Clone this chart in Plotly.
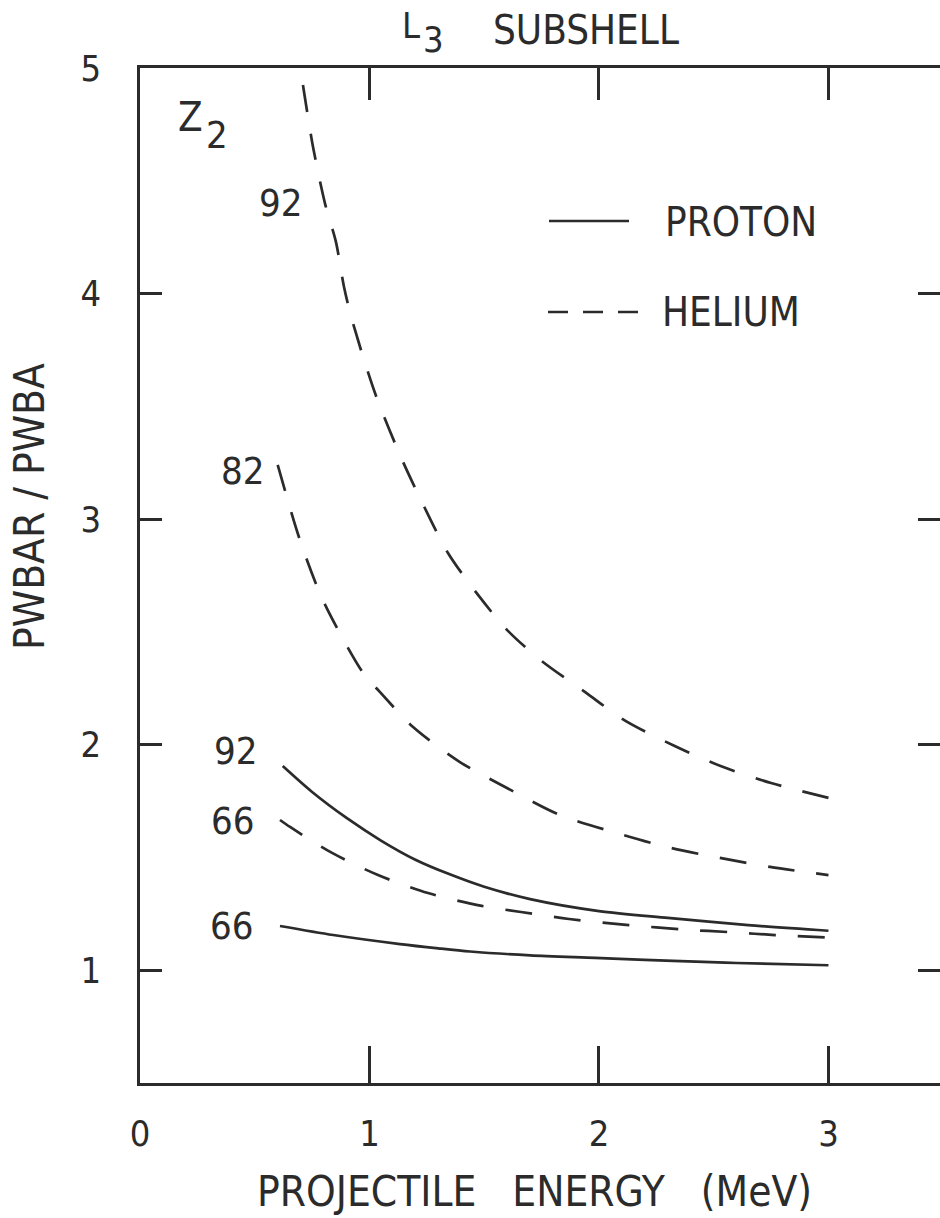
import plotly.graph_objects as go

# PWBAR/PWBA ratio for the L3 subshell vs projectile energy (MeV)
he92_energy = [0.71, 0.754, 0.806, 0.854, 0.889, 0.924, 1.024, 1.133, 1.224, 1.342,
               1.473, 1.60, 1.75, 1.94, 2.11, 2.33, 2.53, 2.75, 3.0]
he92_ratio = [4.925, 4.65, 4.40, 4.228, 4.029, 3.883, 3.559, 3.284, 3.085, 2.85,
              2.664, 2.508, 2.371, 2.233, 2.109, 1.994, 1.905, 1.83, 1.764]

he82_energy = [0.60, 0.697, 0.797, 0.972, 1.046, 1.19, 1.394, 1.599, 1.83, 2.078,
               2.296, 2.527, 2.745, 3.0]
he82_ratio = [3.24, 2.907, 2.641, 2.318, 2.233, 2.078, 1.923, 1.808, 1.688, 1.608,
              1.546, 1.498, 1.458, 1.422]

he66_energy = [0.61, 0.654, 0.837, 1.037, 1.255, 1.489, 1.66, 1.87, 2.13, 2.375,
               2.584, 2.767, 3.0]
he66_ratio = [1.666, 1.635, 1.52, 1.422, 1.342, 1.285, 1.258, 1.227, 1.20, 1.18,
              1.168, 1.156, 1.145]

p92_energy = [0.622, 0.75, 0.9, 1.05, 1.2, 1.35, 1.5, 1.7, 2.0, 2.3, 2.65, 3.0]
p92_ratio = [1.905, 1.79, 1.675, 1.575, 1.49, 1.425, 1.37, 1.315, 1.262, 1.232, 1.20, 1.175]

p66_energy = [0.61, 0.842, 1.133, 1.3, 1.438, 1.7, 1.983, 2.2, 2.455, 2.6, 3.0]
p66_ratio = [1.196, 1.156, 1.116, 1.097, 1.083, 1.066, 1.055, 1.046, 1.037, 1.032, 1.022]

x_ticks = [0, 1, 2, 3]
y_ticks = [1, 2, 3, 4, 5]

INK = "#2b2b2b"
FONT = "DejaVu Sans Condensed, DejaVu Sans, sans-serif"
X_RANGE = [0, 3.486]
Y_RANGE = [0.5, 5.0]

W, H = 940, 1218
ML, MR, MT, MB = 140, 0, 68, 135
PW, PH = W - ML - MR, H - MT - MB


def px_x(px):
    return (px - ML) / PW


def px_y(py):
    return (H - MB - py) / PH


HE_DASH = "27px,22px"

fig = go.Figure()

curves = [
    (he92_energy, he92_ratio, HE_DASH, "Helium 92"),
    (he82_energy, he82_ratio, HE_DASH, "Helium 82"),
    (he66_energy, he66_ratio, HE_DASH, "Helium 66"),
    (p92_energy, p92_ratio, "solid", "Proton 92"),
]
for xs, ys, dash, name in curves:
    fig.add_trace(go.Scatter(
        x=xs, y=ys, mode="lines", name=name, showlegend=False,
        line=dict(color=INK, width=2.7, dash=dash, shape="spline", smoothing=0.8),
    ))

# the last curve sits on the mirrored axis pair (same ranges) so the top/right ticks render
fig.add_trace(go.Scatter(
    x=p66_energy, y=p66_ratio, mode="lines", name="Proton 66", showlegend=False,
    xaxis="x2", yaxis="y2",
    line=dict(color=INK, width=2.7, shape="spline", smoothing=0.8),
))

axis_common = dict(showgrid=False, zeroline=False, linecolor=INK, linewidth=2.6,
                   tickcolor=INK, tickwidth=2.6, ticks="inside")

fig.update_layout(
    width=W, height=H,
    margin=dict(l=ML, r=MR, t=MT, b=MB, pad=0),
    paper_bgcolor="white", plot_bgcolor="white",
    font=dict(family=FONT, color=INK),
    xaxis=dict(range=X_RANGE, tickvals=x_ticks, ticktext=[str(v) for v in x_ticks],
               ticklen=37, showline=True, tickfont=dict(size=36, family=FONT, color=INK),
               ticklabelstandoff=17, **axis_common),
    yaxis=dict(range=Y_RANGE, tickvals=y_ticks, ticktext=[str(v) for v in y_ticks],
               ticklen=22, showline=True, tickfont=dict(size=36, family=FONT, color=INK),
               ticklabelstandoff=29, **axis_common),
    xaxis2=dict(range=X_RANGE, tickvals=[1, 2, 3], overlaying="x", side="top", anchor="y2",
                ticklen=32, showline=True, showticklabels=False, **axis_common),
    yaxis2=dict(range=Y_RANGE, tickvals=[1, 2, 3, 4], overlaying="y", side="right", anchor="x2",
                ticklen=22, showline=False, showticklabels=False, **axis_common),
)


def label(text, cx, cy, size, angle=0, xanchor="center"):
    fig.add_annotation(
        text=text, x=px_x(cx), y=px_y(cy), xref="paper", yref="paper",
        xanchor=xanchor, yanchor="middle", showarrow=False, textangle=angle,
        font=dict(family=FONT, size=size, color=INK),
    )


NB = "\u00a0"

# titles
label("L", 411, 25, 36)
label("3", 433, 39, 36)
label("SUBSHELL", 586, 30, 40)
label("PROJECTILE" + NB * 3 + "ENERGY" + NB * 3 + "(MeV)", 534, 1191, 42)
label("PWBAR" + NB + "/" + NB + "PWBA", 29, 506, 42, angle=-90)

# Z2 heading and curve labels
label("Z", 190, 117, 40)
label("2", 217, 135, 38)
label("92", 281, 203, 38)
label("82", 243, 471, 38)
label("92", 236, 751, 38)
label("66", 233, 821, 38)
label("66", 232, 926, 38)

# legend
fig.add_shape(type="line", xref="paper", yref="paper",
              x0=px_x(549), x1=px_x(629), y0=px_y(221), y1=px_y(221),
              line=dict(color=INK, width=2.6))
fig.add_shape(type="line", xref="paper", yref="paper",
              x0=px_x(548), x1=px_x(638), y0=px_y(312), y1=px_y(312),
              line=dict(color=INK, width=2.6, dash="20px,15px"))
label("PROTON", 663, 222, 40, xanchor="left")
label("HELIUM", 660, 312, 40, xanchor="left")

fig.write_html("out.html")
